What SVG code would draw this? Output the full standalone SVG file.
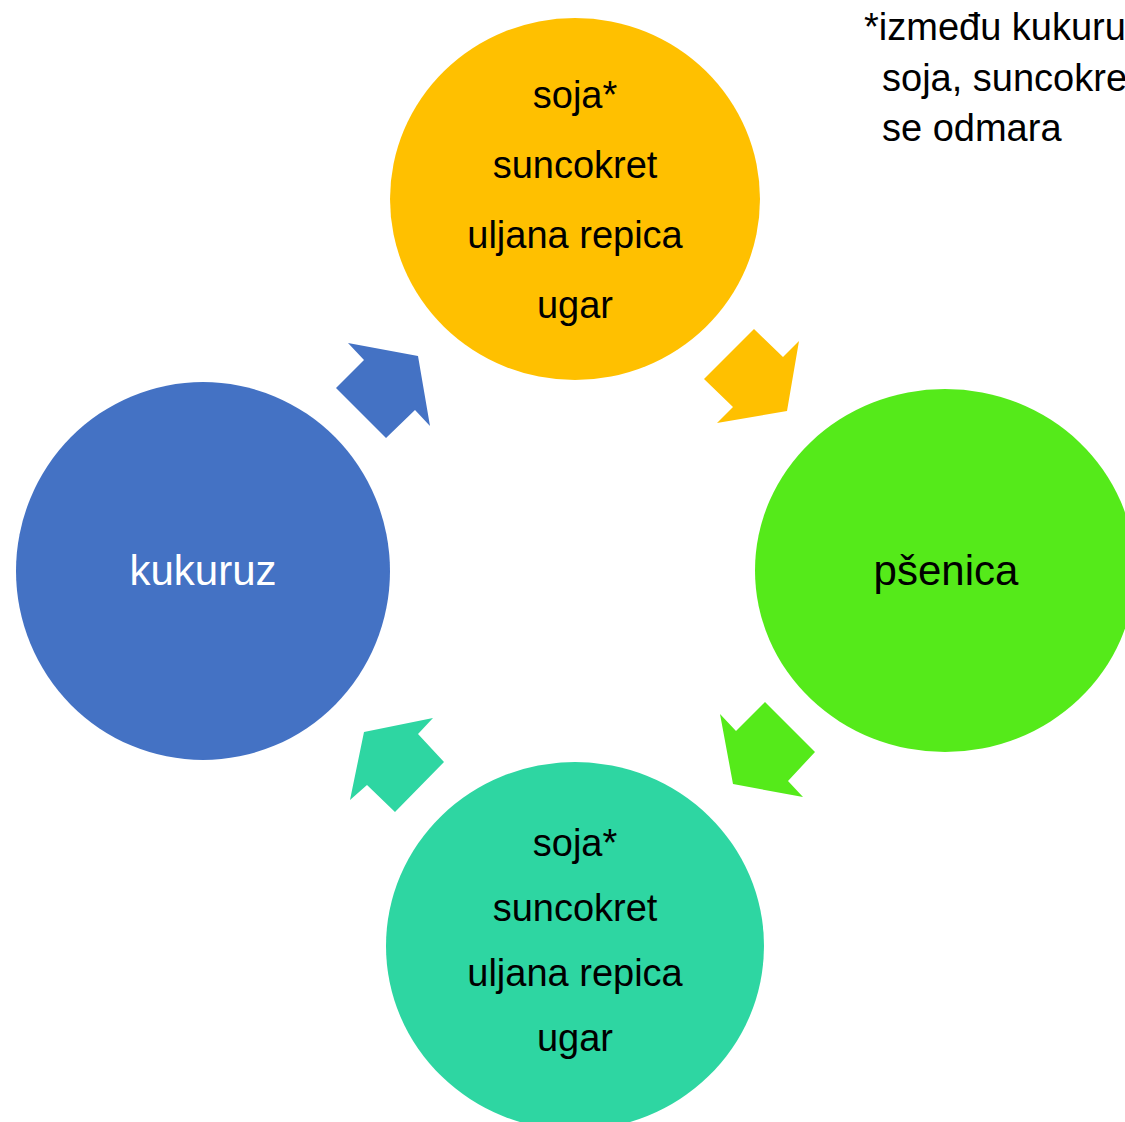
<svg xmlns="http://www.w3.org/2000/svg" width="1125" height="1122" viewBox="0 0 1125 1122">
<style>
text{font-family:"Liberation Sans",Arial,sans-serif;font-size:38px;fill:#000;text-anchor:middle}
.w{fill:#fff}
.big{font-size:42px}
.note{text-anchor:start}
</style>
<rect width="1125" height="1122" fill="#fff"/>
<g id="connectors">
<polygon id="arrow-kukuruz-top" fill="#4472C4" points="348,343 418,356 430,426 415,410 386,438 336,388 364,360"/>
<polygon id="arrow-top-psenica" fill="#FFC000" points="754,329 783,357 799,341 787,411 717,423 733,407 704,379"/>
<polygon id="arrow-psenica-bottom" fill="#55EA1A" points="765,702 815,752 788,781 803,797 733,784 720,714 736,731"/>
<polygon id="arrow-bottom-kukuruz" fill="#2ED6A2" points="364,732 433,718 418,734 444,762 395,812 367,785 350,800"/>
</g>
<g id="node-top">
<ellipse cx="575" cy="199" rx="185" ry="181" fill="#FFC000"/>
<text x="575" y="108">soja*</text>
<text x="575" y="178">suncokret</text>
<text x="575" y="248">uljana repica</text>
<text x="575" y="318">ugar</text>
</g>
<g id="node-psenica">
<ellipse cx="945" cy="570.5" rx="190" ry="181.5" fill="#55EA1A"/>
<text class="big" x="946" y="585">pšenica</text>
</g>
<g id="node-bottom">
<ellipse cx="575" cy="946" rx="189" ry="184" fill="#2ED6A2"/>
<text x="575" y="856">soja*</text>
<text x="575" y="921">suncokret</text>
<text x="575" y="986">uljana repica</text>
<text x="575" y="1051">ugar</text>
</g>
<g id="node-kukuruz">
<ellipse cx="203" cy="571" rx="187" ry="189" fill="#4472C4"/>
<text class="w big" x="203" y="585">kukuruz</text>
</g>
<g id="note">
<text class="note" x="864" y="40">*između kukuru</text>
<text class="note" x="882" y="91">soja, suncokre</text>
<text class="note" x="882" y="141">se odmara</text>
</g>
</svg>
